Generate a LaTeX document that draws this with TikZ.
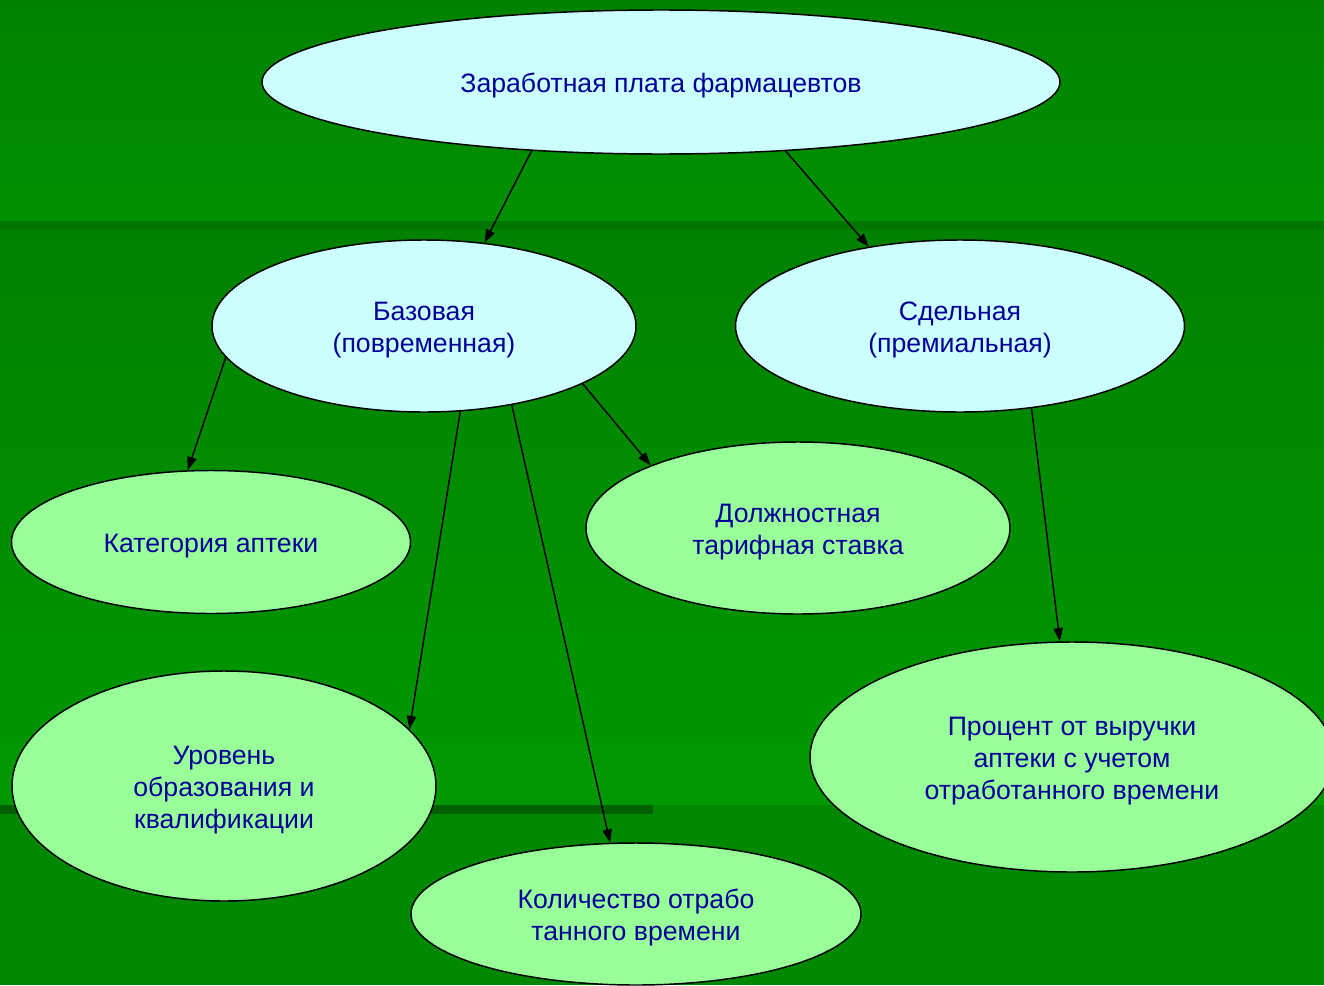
\documentclass[tikz,border=0pt]{standalone}
\usepackage{fontspec}
\setmainfont{Liberation Sans}
\usetikzlibrary{shapes.geometric,arrows.meta}
\definecolor{bgA}{RGB}{0,130,0}
\definecolor{bgB}{RGB}{0,145,0}
\definecolor{bgC}{RGB}{0,152,0}
\definecolor{bandA}{RGB}{0,118,0}
\definecolor{bandB}{RGB}{0,96,0}
\definecolor{bgD}{RGB}{0,136,0}
\definecolor{cyanfill}{RGB}{204,255,255}
\definecolor{greenfill}{RGB}{153,255,153}
\definecolor{txt}{RGB}{0,0,153}
\tikzset{
  oval/.style={ellipse, draw=black, line width=1.1pt, inner sep=0pt, text=txt,
    font=\fontsize{20}{24}\selectfont, align=center},
  topoval/.style={oval, fill=cyanfill},
  leafoval/.style={oval, fill=greenfill},
  conn/.style={-{Triangle[length=10pt,width=7pt]}, line width=1.1pt, black}
}
\newcommand{\lowered}[1]{\raisebox{-3pt}[\height][\depth]{\begin{tabular}{@{}c@{}}#1\end{tabular}}}
\begin{document}
\begin{tikzpicture}[x=0.75pt,y=-0.75pt]
\useasboundingbox (0,0) rectangle (1324,985);
\begin{scope}
\clip (0,0) rectangle (1324,985);
% background
\shade[top color=bgA, bottom color=bgB] (0,0) rectangle (1324,221);
\fill[bandA] (0,221) rectangle (1324,230);
\shade[top color=bgA, bottom color=bgC] (0,230) rectangle (1324,805);
\fill[bgD] (0,805) rectangle (1324,985);
\fill[bandB] (0,805) rectangle (653,814);

% nodes
\node[topoval, minimum width=798*0.75pt, minimum height=144*0.75pt] (top) at (661,82) {\lowered{Заработная плата фармацевтов}};
\node[topoval, minimum width=424*0.75pt, minimum height=172*0.75pt] (base) at (424,326) {\lowered{Базовая\\(повременная)}};
\node[topoval, minimum width=449*0.75pt, minimum height=172*0.75pt] (piece) at (960,326) {\lowered{Сдельная\\(премиальная)}};
\node[leafoval, minimum width=399*0.75pt, minimum height=143*0.75pt] (cat) at (211,542) {\lowered{Категория аптеки}};
\node[leafoval, minimum width=424*0.75pt, minimum height=172*0.75pt] (post) at (798,528) {\lowered{Должностная\\тарифная ставка}};
\node[leafoval, minimum width=424*0.75pt, minimum height=230*0.75pt] (edu) at (224,786) {\lowered{Уровень\\образования и\\квалификации}};
\node[leafoval, minimum width=450*0.75pt, minimum height=142*0.75pt] (hours) at (636,914) {\lowered{Количество отрабо\\танного времени}};
\node[leafoval, minimum width=524*0.75pt, minimum height=230*0.75pt] (pct) at (1072,757) {\lowered{Процент от выручки\\аптеки с учетом\\отработанного времени}};

% connectors
\draw[conn] (top.208) -- (base.54);
\draw[conn] (top.331) -- (piece.139);
\draw[conn] (base.189) -- (cat.108);
\draw[conn] (base.293) -- (edu.17);
\draw[conn] (base.318) -- (hours.110);
\draw[conn] (base.340) -- (post.157);
\draw[conn] (piece.311) -- (pct.96);
\end{scope}
\end{tikzpicture}
\end{document}
